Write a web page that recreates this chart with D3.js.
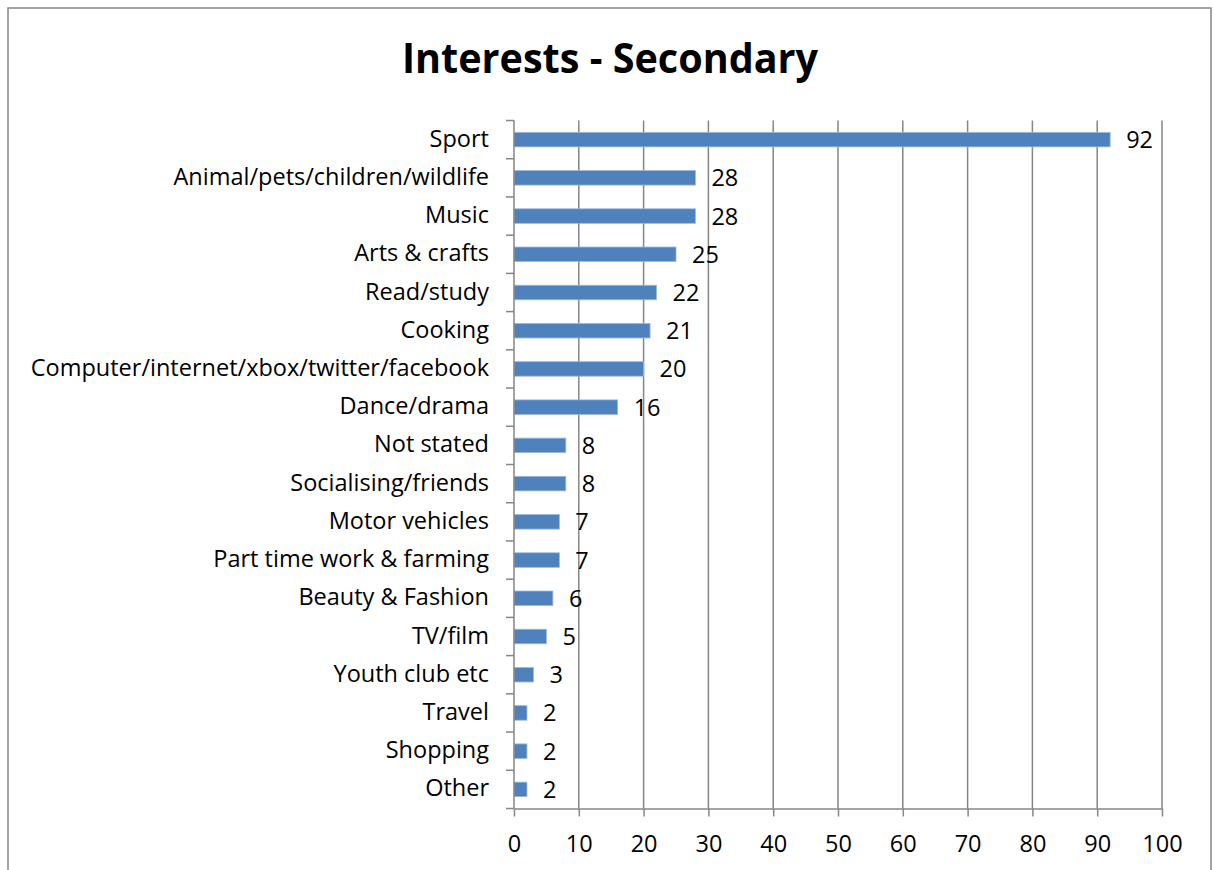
<!DOCTYPE html>
<html><head><meta charset="utf-8">
<script src="https://cdn.jsdelivr.net/npm/d3@7"></script>
<style>body{margin:0;background:#fff;}svg{display:block;}</style>
</head><body>
<script>
const categories = ["Sport","Animal/pets/children/wildlife","Music","Arts & crafts","Read/study","Cooking","Computer/internet/xbox/twitter/facebook","Dance/drama","Not stated","Socialising/friends","Motor vehicles","Part time work & farming","Beauty & Fashion","TV/film","Youth club etc","Travel","Shopping","Other"];
const values = [92,28,28,25,22,21,20,16,8,8,7,7,6,5,3,2,2,2];
const xTicks = [0,10,20,30,40,50,60,70,80,90,100];
const title = "Interests - Secondary";

const W = 1214, H = 870;
const font = "'Open Sans', sans-serif";
const fs = 23.5;
const svg = d3.select("body").append("svg").attr("width", W).attr("height", H);
svg.append("rect").attr("width", W).attr("height", H).attr("fill", "#fff");
// frame
svg.append("path").attr("d", "M8,875 L8,8 L1211,8 L1211,875").attr("fill","none").attr("stroke","#868686").attr("stroke-width",1.5);

const m = {left:514, right:1162, top:120.5, bottom:808.5};
const x = d3.scaleLinear().domain([0,100]).range([m.left, m.right]);
const y = d3.scaleBand().domain(categories).range([m.top, m.bottom]).paddingInner(0.62).paddingOuter(0.31);

svg.append("text").attr("x", 610).attr("y", 73).attr("text-anchor","middle")
  .attr("font-family", font).attr("font-weight","bold").attr("font-size", 42)
  .attr("textLength", 416).attr("lengthAdjust","spacingAndGlyphs").attr("fill","#000").text(title);

// gridlines
svg.append("g").selectAll("line").data(xTicks.slice(1)).join("line")
  .attr("x1", d=>x(d)).attr("x2", d=>x(d)).attr("y1", m.top).attr("y2", m.bottom)
  .attr("stroke","#868686").attr("stroke-width",1.5);

// bars
svg.append("g").selectAll("rect").data(values).join("rect")
  .attr("x", x(0)).attr("y", (d,i)=>y(categories[i]))
  .attr("width", d=>x(d)-x(0)).attr("height", y.bandwidth())
  .attr("fill","#4F81BD").attr("stroke","#9DB9DC").attr("stroke-width",0.8);

// value labels
svg.append("g").selectAll("text").data(values).join("text")
  .attr("x", d=>x(d)+16).attr("y", (d,i)=>y(categories[i])+y.bandwidth()/2)
  .attr("dy","0.36em").attr("font-family", font).attr("font-size", fs).attr("fill","#000").text(d=>d);

// x axis
const xAxis = d3.axisBottom(x).tickValues(xTicks).tickSize(8).tickSizeOuter(0).tickPadding(19);
const gx = svg.append("g").attr("transform", `translate(0,${m.bottom})`).call(xAxis);
gx.select(".domain").attr("stroke","#868686").attr("stroke-width",1.5);
gx.selectAll(".tick line").attr("stroke","#868686").attr("stroke-width",1.5);
gx.selectAll(".tick text").attr("font-family", font).attr("font-size", fs).attr("fill","#000");

// y axis with ticks between categories
const bandStep = (m.bottom - m.top)/categories.length;
const gy = svg.append("g");
gy.append("line").attr("x1", m.left).attr("x2", m.left).attr("y1", m.top).attr("y2", m.bottom).attr("stroke","#868686").attr("stroke-width",1.5);
gy.selectAll("line.t").data(d3.range(categories.length+1)).join("line").attr("class","t")
  .attr("x1", m.left-8).attr("x2", m.left).attr("y1", i=>m.top+i*bandStep).attr("y2", i=>m.top+i*bandStep)
  .attr("stroke","#868686").attr("stroke-width",1.5);
gy.selectAll("text").data(categories).join("text")
  .attr("x", m.left-25).attr("y", d=>y(d)+y.bandwidth()/2).attr("dy","0.3em").attr("text-anchor","end")
  .attr("font-family", font).attr("font-size", fs).attr("fill","#000").text(d=>d);
</script>
</body></html>
